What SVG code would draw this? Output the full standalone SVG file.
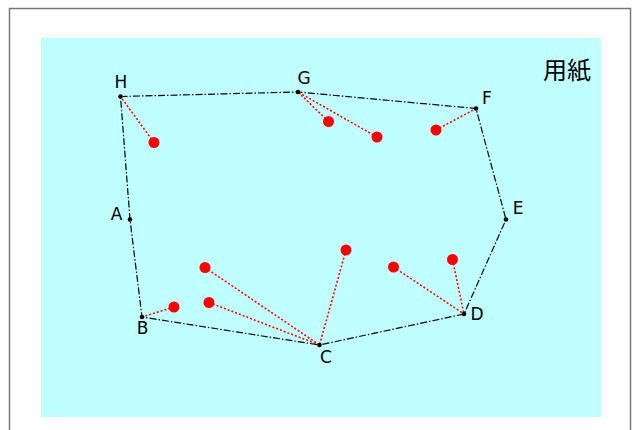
<svg xmlns="http://www.w3.org/2000/svg" width="632" height="430" viewBox="0 0 632 430">
<style>
.lbl{font-family:"DejaVu Sans","Noto Sans",sans-serif;font-size:17px;fill:#000;text-anchor:middle}
.edge{fill:none;stroke:#000;stroke-width:1.2;stroke-dasharray:7,2,1.5,2}
.link{fill:none;stroke:#f00;stroke-width:1.6;stroke-dasharray:2,2}
.pt{fill:#f00}
.v{fill:#000}
</style>
<rect x="9.5" y="8.5" width="621" height="440" fill="#fff" stroke="#777" stroke-width="1.5"/>
<rect x="41" y="38" width="560" height="379" fill="#c0ffff"/>
<text x="567" y="79" font-family="'Noto Sans CJK JP','Noto Sans CJK SC',sans-serif" font-size="24" text-anchor="middle">用紙</text>
<g id="connectors">
<polygon class="edge" points="120.5,96.5 298,92 476,108.5 506,219.5 464,314 319.5,345 142,317 130,219.5"/>
<line class="link" x1="154" y1="142.5" x2="120.5" y2="96.5"/>
<line class="link" x1="328.5" y1="121.5" x2="298" y2="92"/>
<line class="link" x1="377" y1="137" x2="298" y2="92"/>
<line class="link" x1="436" y1="130" x2="476" y2="108.5"/>
<line class="link" x1="174" y1="307" x2="142" y2="317"/>
<line class="link" x1="205" y1="267.5" x2="319.5" y2="345"/>
<line class="link" x1="209" y1="302.5" x2="319.5" y2="345"/>
<line class="link" x1="346" y1="250" x2="319.5" y2="345"/>
<line class="link" x1="393.5" y1="267" x2="464" y2="314"/>
<line class="link" x1="452.5" y1="259.5" x2="464" y2="314"/>
</g>
<g id="H"><circle class="v" cx="120.5" cy="96.5" r="2.3"/><text class="lbl" x="121" y="88">H</text></g>
<g id="G"><circle class="v" cx="298" cy="92" r="2.3"/><text class="lbl" x="304" y="84">G</text></g>
<g id="F"><circle class="v" cx="476" cy="108.5" r="2.3"/><text class="lbl" x="487" y="104">F</text></g>
<g id="E"><circle class="v" cx="506" cy="219.5" r="2.3"/><text class="lbl" x="518" y="214">E</text></g>
<g id="D"><circle class="v" cx="464" cy="314" r="2.3"/><text class="lbl" x="477" y="320">D</text></g>
<g id="C"><circle class="v" cx="319.5" cy="345" r="2.3"/><text class="lbl" x="326" y="363">C</text></g>
<g id="B"><circle class="v" cx="142" cy="317" r="2.3"/><text class="lbl" x="142.5" y="334">B</text></g>
<g id="A"><circle class="v" cx="130" cy="219.5" r="2.3"/><text class="lbl" x="116.5" y="220">A</text></g>
<g id="p1"><circle class="pt" cx="154" cy="142.5" r="5.5"/></g>
<g id="p2"><circle class="pt" cx="328.5" cy="121.5" r="5.5"/></g>
<g id="p3"><circle class="pt" cx="377" cy="137" r="5.5"/></g>
<g id="p4"><circle class="pt" cx="436" cy="130" r="5.5"/></g>
<g id="p5"><circle class="pt" cx="174" cy="307" r="5.5"/></g>
<g id="p6"><circle class="pt" cx="205" cy="267.5" r="5.5"/></g>
<g id="p7"><circle class="pt" cx="209" cy="302.5" r="5.5"/></g>
<g id="p8"><circle class="pt" cx="346" cy="250" r="5.5"/></g>
<g id="p9"><circle class="pt" cx="393.5" cy="267" r="5.5"/></g>
<g id="p10"><circle class="pt" cx="452.5" cy="259.5" r="5.5"/></g>
</svg>
